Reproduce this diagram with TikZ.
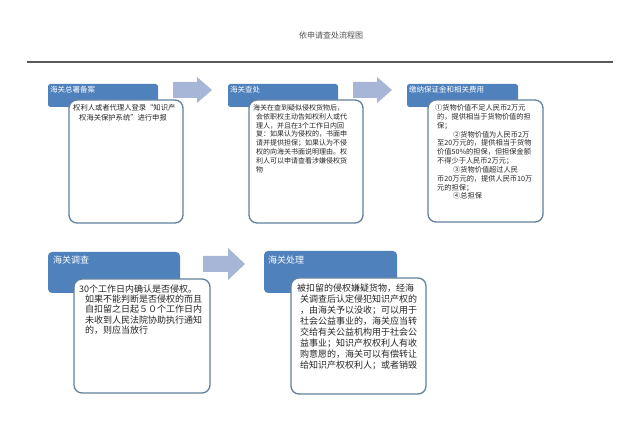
\documentclass[tikz,border=0pt]{standalone}
\usepackage{fontspec}
\newfontfamily\cjk{Noto Sans CJK SC}
\definecolor{hdr}{HTML}{4F81BD}
\definecolor{arr}{HTML}{A7B6D6}
\definecolor{bdr}{HTML}{62809E}
\definecolor{ink}{HTML}{262626}
\begin{document}
\begin{tikzpicture}[x=1pt,y=-1pt,
  hdrbox/.style={fill=hdr, rounded corners=2.5pt, inner sep=0pt, outer sep=0pt, anchor=north west},
  bodybox/.style={fill=white, draw=bdr, line width=1.3pt, rounded corners=8pt, inner sep=0pt, outer sep=0pt, anchor=north west},
  bigarrow/.style={fill=arr},
  txtS/.style={inner sep=0pt, anchor=north west, align=left, text=ink, font=\cjk\fontsize{7}{8.8}\selectfont},
  txtL/.style={inner sep=0pt, anchor=north west, align=left, text=ink, font=\cjk\fontsize{9}{10.4}\selectfont},
  hdrS/.style={inner sep=0pt, anchor=north west, text=white, font=\cjk\fontsize{7.5}{9}\selectfont},
  hdrL/.style={inner sep=0pt, anchor=north west, text=white, font=\cjk\fontsize{9}{10}\selectfont}
]
\useasboundingbox[fill=white] (0,0) rectangle (640,430);

% title and rule
\node[inner sep=0pt, text=ink!80, font=\cjk\fontsize{8}{9}\selectfont] (title) at (331,35) {依申请查处流程图};
\coordinate (ruleL) at (27,62);
\coordinate (ruleR) at (613,62);
\draw[line width=1.2pt, black!65] (ruleL) -- (ruleR);

% ---------- row 1 ----------
\node[hdrbox, minimum width=110pt, minimum height=23pt] (h1) at (48,84) {};
\node[hdrbox, minimum width=110pt, minimum height=23pt] (h2) at (228,84) {};
\node[hdrbox, minimum width=111pt, minimum height=23pt] (h3) at (407,84) {};
\node[hdrS] (h1t) at (50,86) {海关总署备案};
\node[hdrS] (h2t) at (230,86) {海关查处};
\node[hdrS] (h3t) at (409,86) {缴纳保证金和相关费用};

\node[bodybox, minimum width=114pt, minimum height=123pt] (b1) at (69,100) {};
\node[bodybox, minimum width=114pt, minimum height=123pt] (b2) at (249,100) {};
\node[bodybox, minimum width=115pt, minimum height=122pt] (b3) at (428,100) {};

\node[txtS, font=\cjk\fontsize{7.3}{9.5}\selectfont] (b1t) at (73,104.3) {权利人或者代理人登录“知识产\\\hspace*{6pt}权海关保护系统”进行申报};

\node[txtS] (b2t) at (253,104.3) {海关在查到疑似侵权货物后，\\
\hspace*{3pt}会依职权主动告知权利人或代\\
\hspace*{3pt}理人，并且在3个工作日内回\\
\hspace*{3pt}复：如果认为侵权的，书面申\\
\hspace*{3pt}请并提供担保；如果认为不侵\\
\hspace*{3pt}权的向海关书面说明理由。权\\
\hspace*{3pt}利人可以申请查看涉嫌侵权货\\
\hspace*{3pt}物};

\node[txtS, font=\cjk\fontsize{7.2}{8.83}\selectfont] (b3t) at (435,104.3) {①货物价值不足人民币2万元\\
\hspace*{2pt}的，提供相当于货物价值的担\\
\hspace*{2pt}保；\\
\hspace*{18pt}②货物价值为人民币2万\\
\hspace*{2pt}至20万元的，提供相当于货物\\
\hspace*{2pt}价值50\%的担保，但担保金额\\
\hspace*{2pt}不得少于人民币2万元；\\
\hspace*{18pt}③货物价值超过人民\\
\hspace*{2pt}币20万元的，提供人民币10万\\
\hspace*{2pt}元的担保；\\
\hspace*{18pt}④总担保};

% arrows row 1
\fill[bigarrow] (173,82) -- (197,82) -- (197,77) -- (212,90) -- (197,103) -- (197,98) -- (173,98) -- cycle;
\fill[bigarrow] (353,82) -- (377,82) -- (377,77) -- (392,90) -- (377,103) -- (377,98) -- (353,98) -- cycle;

% ---------- row 2 ----------
\node[hdrbox, minimum width=132pt, minimum height=41pt, rounded corners=4pt] (h4) at (48,252) {};
\node[hdrbox, minimum width=133pt, minimum height=42pt, rounded corners=4pt] (h5) at (264,251) {};
\node[hdrL] (h4t) at (53,256) {海关调查};
\node[hdrL] (h5t) at (268,256) {海关处理};

\node[bodybox, minimum width=136pt, minimum height=114pt] (b4) at (74,279) {};
\node[bodybox, minimum width=135pt, minimum height=116pt] (b5) at (291,278) {};

\node[txtL, font=\cjk\fontsize{9}{10.3}\selectfont] (b4t) at (79,284.5) {30个工作日内确认是否侵权。\\
\hspace*{6pt}如果不能判断是否侵权的而且\\
\hspace*{6pt}自扣留之日起５０个工作日内\\
\hspace*{6pt}未收到人民法院协助执行通知\\
\hspace*{6pt}的，则应当放行};

\node[txtL, font=\cjk\fontsize{9}{11}\selectfont] (b5t) at (297,283.5) {被扣留的侵权嫌疑货物，经海\\
\hspace*{3pt}关调查后认定侵犯知识产权的\\
\hspace*{3pt}，由海关予以没收；可以用于\\
\hspace*{3pt}社会公益事业的，海关应当转\\
\hspace*{3pt}交给有关公益机构用于社会公\\
\hspace*{3pt}益事业；知识产权权利人有收\\
\hspace*{3pt}购意愿的，海关可以有偿转让\\
\hspace*{3pt}给知识产权权利人；或者销毁};

% arrow row 2
\fill[bigarrow] (203,256) -- (228,256) -- (228,248) -- (245,264) -- (228,280) -- (228,272) -- (203,272) -- cycle;
\end{tikzpicture}
\end{document}
